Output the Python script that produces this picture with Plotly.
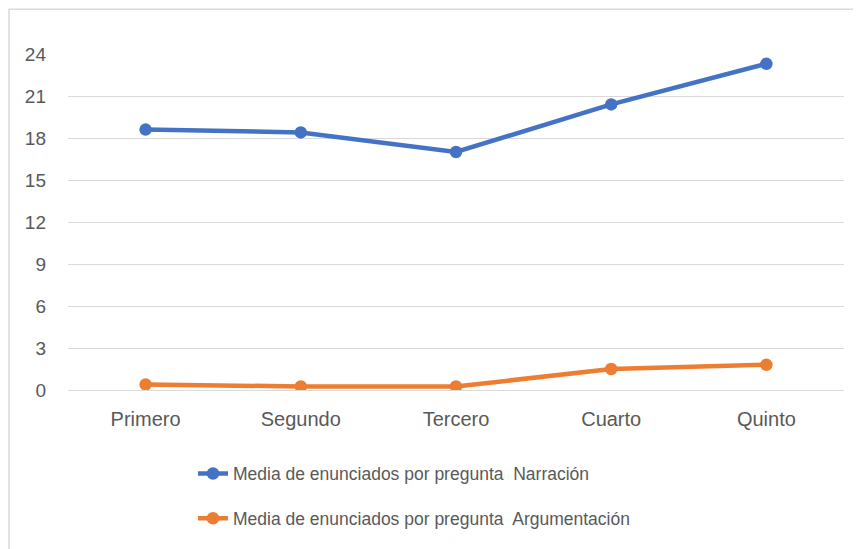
import plotly.graph_objects as go

categories = ["Primero", "Segundo", "Tercero", "Cuarto", "Quinto"]
narracion = [18.6, 18.4, 17.0, 20.4, 23.3]
argumentacion = [0.4, 0.25, 0.25, 1.5, 1.8]
series_names = ["Media de enunciados por pregunta  Narración",
                "Media de enunciados por pregunta  Argumentación"]
y_ticks = [0, 3, 6, 9, 12, 15, 18, 21, 24]

# page is offset by the default 8px body margin
OFF = 8
W, H = 861 - OFF, 549 - OFF
L, R, T, B = 68 - OFF, 861 - 844, 54 - OFF, 549 - 392
pw, ph = W - L - R, H - T - B

fig = go.Figure()
fig.add_trace(go.Scatter(x=categories, y=narracion, name=series_names[0],
                         mode="lines+markers", legendgroup="a",
                         line=dict(color="#4472C4", width=4.5),
                         marker=dict(color="#4472C4", size=12.5)))
fig.add_trace(go.Scatter(x=categories, y=argumentacion, name=series_names[1],
                         mode="lines+markers", legendgroup="b",
                         line=dict(color="#ED7D31", width=4.5),
                         marker=dict(color="#ED7D31", size=12.5)))

def px_x(p):  # page pixel -> paper
    return (p - OFF - L) / pw

def px_y(p):
    return (H - B - (p - OFF)) / ph

fig.add_shape(type="rect", xref="paper", yref="paper",
              x0=px_x(9), x1=px_x(870), y0=px_y(560), y1=px_y(9),
              line=dict(color="#D9D9D9", width=1.5), fillcolor="rgba(0,0,0,0)",
              layer="below")

fig.update_layout(
    width=W, height=H,
    margin=dict(l=L, r=R, t=T, b=B),
    plot_bgcolor="white", paper_bgcolor="white",
    font=dict(family="Liberation Sans, Arial, sans-serif", color="#595959", size=16),
    showlegend=True,
    legend=dict(orientation="v", x=px_x(193), xanchor="left",
                y=px_y(458), yanchor="top", tracegroupgap=19,
                font=dict(size=17.5, color="#595959"), bgcolor="rgba(0,0,0,0)"),
    xaxis=dict(type="category", range=[-0.5, 4.5], showgrid=False, showline=False,
               ticks="", ticklabelstandoff=15,
               tickfont=dict(size=20, color="#595959")),
    yaxis=dict(range=[0, 24], tickvals=y_ticks, showgrid=True, gridcolor="#D9D9D9",
               gridwidth=1.3, zeroline=True, zerolinecolor="#D9D9D9", zerolinewidth=1.3,
               showline=False, ticks="", ticklabelstandoff=21,
               tickfont=dict(size=19, color="#595959")),
)

fig.write_html("out.html")
